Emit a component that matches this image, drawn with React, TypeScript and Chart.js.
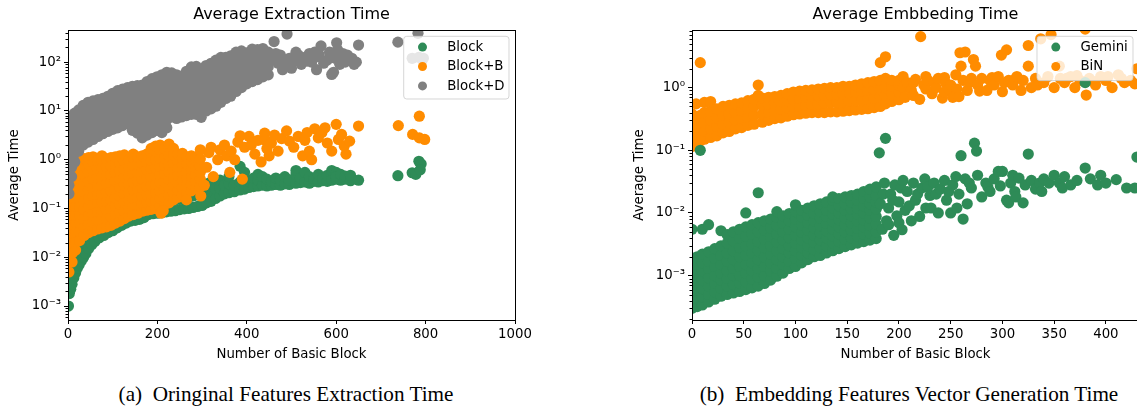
import React, { useEffect, useRef } from 'react';
import { Chart, registerables } from 'chart.js';
Chart.register(...registerables);

type Col = [number, number[]];

const FONT = '"DejaVu Sans", sans-serif';

// ---------- axes / labels ----------
const leftTitle = 'Average Extraction Time';
const rightTitle = 'Average Embbeding Time';
const xAxisTitle = 'Number of Basic Block';
const yAxisTitle = 'Average Time';
const leftXTicks = [0, 200, 400, 600, 800, 1000];
const rightXTicks = [0, 50, 100, 150, 200, 250, 300, 350, 400];
const leftYTicks = [0.001, 0.01, 0.1, 1, 10, 100];
const leftYTickLabels = ['10⁻³', '10⁻²', '10⁻¹', '10⁰', '10¹', '10²'];
const rightYTicks = [0.001, 0.01, 0.1, 1];
const rightYTickLabels = ['10⁻³', '10⁻²', '10⁻¹', '10⁰'];
const leftSeriesNames = ['Block', 'Block+B', 'Block+D'];
const rightSeriesNames = ['Gemini', 'BiN'];
const captionA = '(a)  Oringinal Features Extraction Time';
const captionB = '(b)  Embedding Features Vector Generation Time';

// ---------- left panel data: [number of basic blocks, [average times]] ----------
const blockData: Col[] = [
  [1, [0.001]], [3, [0.0018, 0.003]], [6, [0.0022, 0.0035]], [9, [0.0028, 0.0045]], [13, [0.0038, 0.006]],
  [17, [0.0048, 0.0075]], [21, [0.006, 0.009]], [25, [0.007, 0.011]], [30, [0.0085, 0.013]], [35, [0.01, 0.016]],
  [40, [0.012, 0.019]], [46, [0.015, 0.023]], [53, [0.018, 0.027]], [60, [0.021, 0.032]], [70, [0.025, 0.038]],
  [80, [0.028, 0.043]], [90, [0.032, 0.048]], [100, [0.035, 0.055]], [110, [0.04, 0.06]], [120, [0.045, 0.065]],
  [130, [0.05, 0.07]], [140, [0.055, 0.075]], [150, [0.057, 0.085]], [160, [0.06, 0.09]], [170, [0.065, 0.095]],
  [180, [0.075, 0.1]], [190, [0.078, 0.11]], [200, [0.08, 0.12]], [210, [0.082, 0.125]], [220, [0.085, 0.13]],
  [230, [0.088, 0.14]], [240, [0.09, 0.15]], [250, [0.095, 0.155]], [260, [0.098, 0.16]], [270, [0.1, 0.17]],
  [280, [0.105, 0.18]], [290, [0.11, 0.19]], [300, [0.115, 0.2, 0.3]], [310, [0.13, 0.2, 0.32]], [320, [0.14, 0.22, 0.35]],
  [330, [0.16, 0.25]], [340, [0.18, 0.26, 0.38]], [350, [0.2, 0.3]], [360, [0.21, 0.32, 0.45]], [372, [0.22, 0.3]],
  [385, [0.24, 0.35, 0.73]], [395, [0.25, 0.4, 0.55]], [405, [0.27, 0.36]], [415, [0.28, 0.42]], [425, [0.29, 0.38, 0.5]],
  [435, [0.3, 0.45]], [445, [0.29, 0.4]], [455, [0.3, 0.36]], [465, [0.31, 0.42]], [475, [0.3, 0.38]],
  [485, [0.32, 0.45]], [495, [0.31, 0.38]], [510, [0.33, 0.5, 0.6]], [520, [0.34, 0.42]], [530, [0.35, 0.55]],
  [540, [0.33, 0.45]], [550, [0.36, 0.4]], [560, [0.35, 0.5]], [570, [0.37, 0.42]], [580, [0.36, 0.48]],
  [590, [0.38, 0.6]], [600, [0.4, 0.55, 0.45]], [610, [0.38, 0.5]], [620, [0.4, 0.46]], [632, [0.37, 0.48]],
  [650, [0.38]], [738, [0.47]], [770, [0.54]], [778, [0.5]], [785, [0.93]], [790, [0.82]], [788, [0.62]],
];

const blockBData: Col[] = [
  [2, [0.005, 0.008, 0.012, 0.019, 0.03, 0.045, 0.07, 0.11, 0.17]],
  [9, [0.008, 0.012, 0.018, 0.028, 0.042, 0.065, 0.1, 0.15, 0.23, 0.35]],
  [17, [0.014, 0.021, 0.032, 0.05, 0.075, 0.11, 0.17, 0.26, 0.4, 0.6]],
  [26, [0.022, 0.033, 0.05, 0.075, 0.11, 0.17, 0.26, 0.4, 0.6, 0.9]],
  [36, [0.028, 0.042, 0.064, 0.095, 0.14, 0.22, 0.33, 0.5, 0.75, 1.05]],
  [46, [0.032, 0.048, 0.072, 0.11, 0.16, 0.24, 0.36, 0.55, 0.82, 1.1]],
  [56, [0.035, 0.052, 0.078, 0.12, 0.18, 0.27, 0.4, 0.6, 0.9, 1.15]],
  [66, [0.038, 0.057, 0.085, 0.13, 0.19, 0.29, 0.43, 0.65, 0.97]],
  [76, [0.04, 0.06, 0.09, 0.135, 0.2, 0.3, 0.45, 0.68, 1.0, 1.2]],
  [86, [0.042, 0.063, 0.095, 0.14, 0.21, 0.32, 0.48, 0.72, 1.05]],
  [96, [0.045, 0.068, 0.1, 0.15, 0.23, 0.34, 0.5, 0.75, 1.1]],
  [106, [0.05, 0.075, 0.11, 0.165, 0.25, 0.37, 0.55, 0.8, 1.15]],
  [116, [0.055, 0.082, 0.12, 0.18, 0.27, 0.4, 0.6, 0.88, 1.2]],
  [126, [0.062, 0.09, 0.135, 0.2, 0.3, 0.44, 0.65, 0.95, 1.25]],
  [136, [0.07, 0.1, 0.15, 0.22, 0.32, 0.47, 0.7, 1.0]],
  [146, [0.075, 0.11, 0.16, 0.24, 0.35, 0.52, 0.76, 1.1, 1.3]],
  [156, [0.08, 0.115, 0.17, 0.25, 0.37, 0.55, 0.8, 1.15]],
  [166, [0.088, 0.125, 0.18, 0.27, 0.4, 0.58, 0.85, 1.2]],
  [176, [0.092, 0.13, 0.19, 0.28, 0.42, 0.62, 0.9, 1.3]],
  [186, [0.096, 0.14, 0.2, 0.3, 0.45, 0.66, 0.97, 1.4, 1.7]],
  [196, [0.1, 0.145, 0.21, 0.31, 0.46, 0.68, 1.0, 1.5, 1.9]],
  [206, [0.11, 0.16, 0.23, 0.34, 0.5, 0.72, 1.05, 1.6, 2.0]],
  [216, [0.12, 0.17, 0.25, 0.36, 0.52, 0.76, 1.1, 1.7]],
  [226, [0.13, 0.19, 0.27, 0.39, 0.56, 0.8, 1.2, 1.8, 2.1]],
  [236, [0.15, 0.21, 0.3, 0.42, 0.6, 0.85, 1.25, 1.7]],
  [246, [0.17, 0.24, 0.34, 0.48, 0.68, 0.95, 1.3]],
  [256, [0.19, 0.27, 0.38, 0.53, 0.75, 1.05, 1.35]],
  [266, [0.21, 0.3, 0.42, 0.58, 0.82, 1.15]],
  [276, [0.23, 0.32, 0.45, 0.63, 0.88, 1.2]],
  [286, [0.26, 0.36, 0.5, 0.7, 0.95, 1.1]],
  [296, [0.28, 0.4, 0.55, 0.75, 1.05, 1.6]],
  [208, [0.08]], [213, [0.09]], [265, [0.15]], [297, [0.18]],
  [305, [0.3]], [310, [0.7]], [315, [1.4]], [320, [1.8]], [325, [0.45]], [335, [1.0]], [340, [1.6]],
  [350, [2.0]], [355, [1.2]], [362, [0.55]], [365, [1.5]], [373, [1.0]], [380, [2.3]], [385, [3.1]],
  [390, [0.4]], [395, [1.8]], [405, [3.0]], [410, [2.0]], [418, [1.3]], [425, [2.5]], [432, [0.9]],
  [440, [3.5]], [442, [2.5]], [445, [1.7]], [450, [1.2]], [455, [2.2]], [462, [3.2]], [470, [1.5]],
  [478, [2.7]], [489, [3.9]], [495, [2.4]], [505, [1.8]], [515, [3.0]], [525, [1.2]], [530, [2.5]],
  [535, [3.6]], [540, [1.5]], [545, [1.0]], [552, [4.3]], [560, [2.8]], [568, [3.6]], [575, [4.5]],
  [580, [2.2]], [590, [1.5]], [600, [5.3]], [605, [2.6]], [612, [3.3]], [618, [1.9]], [622, [1.3]],
  [630, [2.4]], [650, [4.9]], [739, [5.0]], [771, [3.3]], [786, [7.8, 2.8]], [798, [2.6]],
];

const blockDData: Col[] = [
  [2, [0.2, 0.3, 0.45, 0.7, 1.0, 1.5, 2.3, 3.5, 5.3, 7.5]],
  [8, [0.45, 0.7, 1.0, 1.5, 2.3, 3.5, 5.2, 7.8]],
  [15, [0.9, 1.35, 2.0, 3.0, 4.5, 6.8, 9.0]],
  [24, [1.5, 2.2, 3.3, 5.0, 7.5, 10.5]],
  [34, [2.0, 3.0, 4.5, 6.8, 10, 13]],
  [45, [2.3, 3.4, 5.0, 7.5, 11, 15]],
  [56, [2.6, 3.8, 5.6, 8.3, 12, 16]],
  [67, [3.0, 4.4, 6.5, 9.5, 14, 17]],
  [78, [3.4, 5.0, 7.3, 10.5, 15, 18]],
  [89, [3.8, 5.5, 8.0, 11.5, 16, 20]],
  [100, [4.2, 6.0, 8.8, 13, 19, 23]],
  [111, [4.5, 6.5, 9.5, 14, 20, 26]],
  [122, [5.0, 7.2, 10.5, 15, 22, 28]],
  [133, [5.5, 8.0, 11.5, 17, 24, 30]],
  [144, [4.0, 5.8, 8.5, 12.5, 18, 26, 32]],
  [155, [3.5, 5.2, 7.5, 11, 16, 23, 33]],
  [166, [2.8, 4.2, 6.2, 9.0, 13, 19, 27, 34]],
  [177, [3.2, 4.7, 7.0, 10, 15, 22, 32, 40]],
  [188, [3.6, 5.3, 7.8, 11.5, 17, 25, 36, 46]],
  [199, [4.0, 5.8, 8.5, 12.5, 18, 27, 40, 50]],
  [210, [3.6, 5.3, 7.8, 11.5, 17, 25, 37, 55]],
  [221, [4.5, 6.6, 9.7, 14, 21, 31, 45, 62]],
  [232, [7.5, 11, 16, 23, 34, 50, 60]],
  [243, [7.0, 10, 15, 22, 32, 46, 55]],
  [254, [7.5, 11, 16, 23, 34, 48, 52]],
  [265, [8.0, 12, 17, 25, 36, 52, 65]],
  [276, [8.5, 12.5, 18, 27, 40, 58, 80]],
  [287, [8.5, 12.5, 18, 27, 40, 58, 82]],
  [298, [7.4, 11, 16, 24, 35, 52, 72]],
  [309, [10, 14.5, 21, 31, 46, 68, 85]],
  [320, [11, 16, 24, 35, 52, 78, 95]],
  [331, [12.5, 18, 27, 40, 60, 90, 110]],
  [342, [15, 22, 33, 48, 72, 105, 125]],
  [353, [18, 27, 40, 58, 85, 125]],
  [364, [20, 30, 44, 65, 95, 135]],
  [376, [25, 37, 55, 80, 120, 160]],
  [388, [30, 44, 65, 95, 140, 170]],
  [400, [36, 53, 78, 115, 155]],
  [412, [40, 58, 85, 125, 170, 185]],
  [424, [44, 65, 95, 140, 180]],
  [436, [50, 72, 105, 150, 190]],
  [448, [55, 80, 118, 160]],
  [455, [110]], [461, [264]], [465, [150]], [470, [95]], [475, [140]], [480, [70]], [485, [95]],
  [490, [377]], [495, [120]], [500, [75]], [505, [107]], [510, [160]], [515, [140]], [518, [120]],
  [522, [90]], [530, [125]], [535, [105]], [540, [150]], [545, [100]], [548, [130]], [552, [160]],
  [556, [70]], [560, [130]], [562, [140]], [566, [215]], [572, [95]], [580, [110]], [585, [160]],
  [590, [56]], [592, [130]], [594, [62]], [598, [120]], [601, [250]], [603, [180]], [608, [90]],
  [612, [130]], [615, [150]], [620, [100]], [625, [140]], [628, [110]], [635, [120]], [640, [90]],
  [645, [100]], [650, [224]], [738, [257]], [770, [120]], [783, [390]], [785, [125]], [795, [120]],
];

// ---------- right panel data ----------
const geminiData: Col[] = [
  [0, [0.0003, 0.0004, 0.00055, 0.00075, 0.001, 0.0014, 0.0019, 0.0055]],
  [5, [0.00032, 0.00043, 0.0006, 0.0008, 0.0011, 0.0015, 0.002]],
  [8, [0.1]],
  [10, [0.00034, 0.00046, 0.00062, 0.00085, 0.0012, 0.0016, 0.0022, 0.0055]],
  [16, [0.00038, 0.0005, 0.00068, 0.00092, 0.0013, 0.0017, 0.0024, 0.0065]],
  [22, [0.00042, 0.00055, 0.00075, 0.001, 0.0014, 0.0019, 0.0027]],
  [28, [0.00047, 0.00062, 0.00085, 0.0011, 0.0015, 0.0021, 0.003, 0.0052]],
  [34, [0.0005, 0.00068, 0.0009, 0.0012, 0.0017, 0.0023, 0.0033, 0.0045]],
  [40, [0.00053, 0.00072, 0.001, 0.0013, 0.0018, 0.0025, 0.0036, 0.005]],
  [46, [0.00056, 0.00076, 0.001, 0.0014, 0.002, 0.0028, 0.004, 0.0055]],
  [52, [0.0006, 0.0008, 0.0011, 0.0015, 0.0021, 0.003, 0.0043, 0.006, 0.01]],
  [58, [0.00064, 0.00088, 0.0012, 0.0016, 0.0023, 0.0032, 0.0046, 0.0065]],
  [64, [0.00068, 0.00095, 0.0013, 0.0018, 0.0025, 0.0035, 0.005, 0.007, 0.021]],
  [70, [0.00075, 0.001, 0.0014, 0.002, 0.0028, 0.0038, 0.0053, 0.0075]],
  [76, [0.00085, 0.0012, 0.0016, 0.0022, 0.003, 0.0042, 0.0058, 0.008]],
  [82, [0.00098, 0.0013, 0.0018, 0.0025, 0.0034, 0.0046, 0.0063, 0.0085, 0.0105]],
  [88, [0.0011, 0.0015, 0.002, 0.0027, 0.0037, 0.005, 0.0068, 0.009]],
  [94, [0.0013, 0.0017, 0.0023, 0.003, 0.004, 0.0055, 0.0074, 0.0098]],
  [100, [0.0014, 0.0019, 0.0025, 0.0033, 0.0044, 0.006, 0.008, 0.0105, 0.0135]],
  [106, [0.0016, 0.0021, 0.0028, 0.0037, 0.0049, 0.0065, 0.0086, 0.011]],
  [112, [0.0018, 0.0023, 0.003, 0.004, 0.0053, 0.007, 0.0092, 0.012]],
  [118, [0.002, 0.0026, 0.0034, 0.0044, 0.0058, 0.0075, 0.0098, 0.013]],
  [124, [0.0021, 0.0028, 0.0037, 0.0048, 0.0063, 0.0082, 0.0105, 0.014]],
  [130, [0.0023, 0.003, 0.004, 0.0052, 0.0068, 0.0088, 0.011, 0.015]],
  [136, [0.0025, 0.0033, 0.0043, 0.0056, 0.0073, 0.0095, 0.012, 0.016, 0.018]],
  [142, [0.0027, 0.0035, 0.0046, 0.006, 0.0078, 0.01, 0.013, 0.017]],
  [148, [0.0029, 0.0038, 0.005, 0.0065, 0.0084, 0.011, 0.014, 0.018]],
  [154, [0.0031, 0.004, 0.0053, 0.0069, 0.009, 0.0115, 0.015, 0.019]],
  [160, [0.0033, 0.0043, 0.0057, 0.0074, 0.0096, 0.012, 0.016, 0.02]],
  [166, [0.0035, 0.0046, 0.006, 0.0078, 0.01, 0.013, 0.017, 0.022]],
  [172, [0.0037, 0.0048, 0.0063, 0.0083, 0.011, 0.014, 0.018, 0.024]],
  [178, [0.0039, 0.005, 0.0066, 0.0088, 0.0115, 0.015, 0.019, 0.026]],
  [181, [0.091]], [182, [0.014]], [184, [0.0055]], [185, [0.02]], [186, [0.03]], [187, [0.155]],
  [188, [0.0075]], [190, [0.012, 0.0065]], [192, [0.02]], [194, [0.016]], [195, [0.0044]], [196, [0.028]],
  [198, [0.009]], [200, [0.015, 0.007]], [202, [0.025]], [203, [0.0054]], [204, [0.033]], [206, [0.011]],
  [208, [0.022]], [210, [0.013]], [212, [0.0075]], [214, [0.03]], [216, [0.016]], [218, [0.02]],
  [220, [0.0088]], [222, [0.025]], [225, [0.035]], [226, [0.012]], [228, [0.026]], [230, [0.019]],
  [231, [0.012]], [234, [0.03]], [236, [0.02]], [238, [0.01]], [240, [0.024]], [244, [0.033]],
  [246, [0.016]], [248, [0.022]], [250, [0.01]], [252, [0.028]], [255, [0.038]], [256, [0.012]],
  [258, [0.02]], [260, [0.082]], [262, [0.008]], [264, [0.035]], [266, [0.014]], [268, [0.03]],
  [270, [0.025]], [273, [0.13]], [275, [0.097]], [276, [0.04]], [280, [0.018]], [284, [0.03]],
  [286, [0.026]], [288, [0.022]], [292, [0.035]], [296, [0.046]], [298, [0.027]], [300, [0.046]],
  [304, [0.016]], [306, [0.0145]], [308, [0.03]], [310, [0.04]], [312, [0.022]], [313, [0.018]],
  [316, [0.036]], [320, [0.0145]], [322, [0.028]], [325, [0.087]], [328, [0.033]], [332, [0.024]],
  [336, [0.03]], [338, [0.022]], [340, [0.035]], [345, [0.03]], [350, [0.04]], [355, [0.03]],
  [358, [0.025]], [360, [0.038]], [366, [0.028]], [372, [0.033]], [380, [0.052, 1.2]], [385, [0.035]],
  [392, [0.028]], [395, [0.04]], [400, [0.03]], [410, [0.034]], [420, [0.025]], [428, [0.025]], [430, [0.078]],
];

const binData: Col[] = [
  [0, [0.115, 0.16, 0.22, 0.3, 0.38]], [4, [0.13, 0.18, 0.25, 0.34, 0.55]], [8, [0.14, 0.19, 0.26, 0.36, 2.5]],
  [12, [0.15, 0.2, 0.28, 0.4, 0.58]], [18, [0.16, 0.22, 0.3, 0.42, 0.6]], [24, [0.17, 0.24, 0.33, 0.46]],
  [30, [0.19, 0.26, 0.36, 0.5]], [36, [0.2, 0.28, 0.38, 0.52]], [42, [0.22, 0.3, 0.4, 0.55]],
  [48, [0.23, 0.32, 0.43, 0.57]], [54, [0.25, 0.34, 0.46, 0.62]], [60, [0.26, 0.36, 0.5, 0.65]],
  [64, [0.75, 1.1]], [68, [0.28, 0.38, 0.52, 0.68]], [74, [0.3, 0.4, 0.55, 0.7]], [80, [0.32, 0.42, 0.57, 0.72]],
  [86, [0.33, 0.45, 0.6, 0.75]], [92, [0.35, 0.47, 0.62, 0.8]], [98, [0.37, 0.49, 0.65, 0.85]],
  [104, [0.38, 0.5, 0.67, 0.88]], [110, [0.39, 0.52, 0.7, 0.9]], [116, [0.4, 0.54, 0.72, 0.92]],
  [122, [0.4, 0.55, 0.74, 0.95]], [128, [0.4, 0.56, 0.75, 0.97]], [134, [0.41, 0.57, 0.77, 1.0]],
  [140, [0.41, 0.58, 0.78, 1.0]], [146, [0.42, 0.59, 0.8, 1.05]], [152, [0.43, 0.6, 0.82, 1.05]],
  [158, [0.44, 0.62, 0.85, 1.1]], [164, [0.45, 0.63, 0.88, 1.15]], [170, [0.46, 0.65, 0.9, 1.2]],
  [176, [0.48, 0.67, 0.92, 1.25]], [182, [0.5, 0.7, 0.95, 1.3, 2.5]], [187, [0.55, 0.75, 1.0, 1.4, 3.1]],
  [193, [0.6, 0.8, 1.05, 1.3]], [200, [0.64, 0.85, 1.1, 1.3]], [204, [1.0, 1.5]],
  [206, [0.7]], [208, [1.2]], [212, [0.9]], [214, [0.75, 1.2]], [216, [1.35]], [220, [0.65]], [221, [6.5]],
  [224, [1.1]], [226, [0.95, 1.5]], [228, [1.3]], [232, [0.8]], [234, [1.2]], [236, [1.0]], [238, [1.4]],
  [242, [0.68]], [244, [0.85, 1.45]], [245, [1.2]], [248, [0.95]], [250, [1.1]], [252, [0.7]], [255, [1.6]],
  [256, [0.95]], [258, [0.72]], [259, [3.6]], [260, [2.2]], [262, [1.3]], [264, [3.7]], [266, [0.9]],
  [268, [1.2]], [270, [1.4]], [272, [2.8]], [274, [2.2]], [276, [1.1]], [278, [0.88]], [280, [1.4]],
  [285, [0.9]], [288, [1.3]], [290, [1.45]], [292, [1.1]], [296, [1.5]], [299, [3.3]], [300, [0.86]],
  [302, [1.2]], [304, [4.0]], [306, [1.3]], [310, [1.1]], [312, [1.35]], [314, [1.5]], [318, [0.9]],
  [320, [1.3]], [325, [2.2, 4.7]], [328, [1.0]], [332, [1.4]], [334, [1.1]], [337, [6.0]], [340, [1.2]],
  [344, [1.5]], [347, [7.0]], [350, [1.0]], [355, [2.2]], [356, [1.4]], [360, [1.2]], [362, [1.4]],
  [366, [1.5]], [370, [1.0]], [372, [1.55]], [375, [1.3]], [380, [8.6]], [381, [0.76]], [384, [1.4]],
  [388, [1.25]], [390, [1.1]], [395, [1.5]], [400, [1.3]], [402, [1.5]], [406, [1.0]], [412, [1.6]],
  [415, [1.4]], [418, [1.2]], [424, [1.3]], [428, [1.15]], [430, [2.0]],
];

// ---------- styling ----------
const GREEN = '#2e8b57';
const ORANGE = '#ff8c00';
const GRAY = '#808080';
const POINT_RADIUS = 5.6;

const toPoints = (cols: Col[]) => cols.flatMap(([x, ys]) => ys.map((y) => ({ x, y })));

function minorTicks(min: number, max: number) {
  const out: number[] = [];
  for (let e = Math.floor(Math.log10(min)); e <= Math.ceil(Math.log10(max)); e++) {
    for (let d = 2; d <= 9; d++) {
      const v = d * Math.pow(10, e);
      if (v >= min && v <= max) out.push(v);
    }
  }
  return out;
}

type Series = { name: string; color: string; order: number; cols: Col[] };
type Panel = {
  title: string; series: Series[]; xMin: number; xMax: number; xTicks: number[];
  yMin: number; yMax: number; yTicks: number[]; yLabels: string[];
  width: number; padRight: number; yWidth: number; yTitlePad: number;
  legendW: number; legendH: number;
};

function makeOverlay(p: Panel) {
  const minors = minorTicks(p.yMin, p.yMax);
  return {
    id: 'overlay',
    afterDatasetsDraw(chart: any) {
      const { ctx, chartArea: a } = chart;
      const ys = chart.scales.y;
      ctx.save();
      ctx.strokeStyle = '#000';
      ctx.lineWidth = 1;
      ctx.beginPath();
      for (const v of minors) {
        const py = Math.round(ys.getPixelForValue(v)) + 0.5;
        ctx.moveTo(a.left - 2.5, py);
        ctx.lineTo(a.left, py);
      }
      ctx.stroke();
      const l = Math.round(a.left) + 0.5, t = Math.round(a.top) + 0.5;
      const r = Math.round(a.right) + 0.5, b = Math.round(a.bottom) + 0.5;
      ctx.strokeRect(l, t, r - l, b - t);
      // legend box
      const bx = a.right - 6.5 - p.legendW;
      const by = a.top + 5.8;
      ctx.beginPath();
      ctx.roundRect(bx + 0.5, by + 0.5, p.legendW, p.legendH, 3);
      ctx.fillStyle = 'rgba(255,255,255,0.8)';
      ctx.fill();
      ctx.strokeStyle = 'rgba(204,204,204,0.8)';
      ctx.stroke();
      ctx.font = '13.3px ' + FONT;
      ctx.textBaseline = 'middle';
      ctx.textAlign = 'left';
      chart.data.datasets.forEach((d: any, i: number) => {
        const cy = by + 11.3 + i * 19.4;
        ctx.beginPath();
        ctx.arc(bx + 19.3, cy, 4.5, 0, Math.PI * 2);
        ctx.fillStyle = d.backgroundColor;
        ctx.fill();
        ctx.fillStyle = '#000';
        ctx.fillText(d.label, bx + 44, cy + 0.5);
      });
      ctx.restore();
    },
  };
}

function makeConfig(p: Panel): any {
  const tickFont = { family: FONT, size: 13.3 };
  return {
    type: 'scatter',
    data: {
      datasets: p.series.map((s) => ({
        label: s.name,
        data: toPoints(s.cols),
        backgroundColor: s.color,
        borderColor: s.color,
        borderWidth: 0,
        pointRadius: POINT_RADIUS,
        pointHoverRadius: POINT_RADIUS,
        order: s.order,
        clip: 0,
      })),
    },
    options: {
      animation: false,
      responsive: false,
      devicePixelRatio: 1,
      events: [],
      layout: { padding: { left: 0, right: p.padRight, top: 0, bottom: 0 } },
      plugins: {
        legend: { display: false },
        tooltip: { enabled: false },
        title: {
          display: true, text: p.title, color: '#000', fullSize: false,
          font: { family: FONT, size: 16, weight: 'normal' },
          padding: { top: 5.5, bottom: 5.3 },
        },
      },
      scales: {
        x: {
          type: 'linear', min: p.xMin, max: p.xMax,
          afterFit: (s: any) => { s.height = 45; },
          afterBuildTicks: (s: any) => { s.ticks = p.xTicks.map((v) => ({ value: v })); },
          ticks: { color: '#000', font: tickFont, padding: 3, autoSkip: false, maxRotation: 0, callback: (v: any) => String(v) },
          grid: { display: true, drawOnChartArea: false, drawTicks: true, tickLength: 4, tickColor: '#000', tickWidth: 1 },
          border: { display: true, color: '#000', width: 1 },
          title: { display: true, text: xAxisTitle, color: '#000', font: tickFont, padding: { top: 0, bottom: 2.5 } },
        },
        y: {
          type: 'logarithmic', min: p.yMin, max: p.yMax,
          afterFit: (s: any) => { s.width = p.yWidth; },
          afterBuildTicks: (s: any) => { s.ticks = p.yTicks.map((v) => ({ value: v, major: true })); },
          ticks: {
            color: '#000', font: tickFont, padding: 3, autoSkip: false,
            callback: (v: any) => {
              const i = p.yTicks.findIndex((t) => Math.abs(t - v) / t < 1e-6);
              return i >= 0 ? p.yLabels[i] : '';
            },
          },
          grid: { display: true, drawOnChartArea: false, drawTicks: true, tickLength: 4, tickColor: '#000', tickWidth: 1 },
          border: { display: true, color: '#000', width: 1 },
          title: { display: true, text: yAxisTitle, color: '#000', font: tickFont, padding: { top: p.yTitlePad, bottom: 0 } },
        },
      },
    },
    plugins: [makeOverlay(p)],
  };
}

const leftPanel: Panel = {
  title: leftTitle,
  series: [
    { name: leftSeriesNames[0], color: GREEN, order: 3, cols: blockData },
    { name: leftSeriesNames[1], color: ORANGE, order: 2, cols: blockBData },
    { name: leftSeriesNames[2], color: GRAY, order: 1, cols: blockDData },
  ],
  xMin: 0, xMax: 1000, xTicks: leftXTicks,
  yMin: 0.000517, yMax: 456, yTicks: leftYTicks, yLabels: leftYTickLabels,
  width: 580, padRight: 65, yWidth: 68, yTitlePad: 7,
  legendW: 105.3, legendH: 62.7,
};

const rightPanel: Panel = {
  title: rightTitle,
  series: [
    { name: rightSeriesNames[0], color: GREEN, order: 1, cols: geminiData },
    { name: rightSeriesNames[1], color: ORANGE, order: 2, cols: binData },
  ],
  xMin: 0, xMax: 432, xTicks: rightXTicks,
  yMin: 0.000196, yMax: 8.3, yTicks: rightYTicks, yLabels: rightYTickLabels,
  width: 592, padRight: 73, yWidth: 72, yTitlePad: 12,
  legendW: 96, legendH: 44.3,
};

function PanelChart({ panel, left }: { panel: Panel; left: number }) {
  const ref = useRef<HTMLCanvasElement | null>(null);
  useEffect(() => {
    if (!ref.current) return;
    const chart = new Chart(ref.current, makeConfig(panel));
    return () => chart.destroy();
  }, [panel]);
  return (
    <canvas
      ref={ref}
      width={panel.width}
      height={365}
      style={{ position: 'absolute', left, top: 0, width: panel.width, height: 365 }}
    />
  );
}

const captionStyle: React.CSSProperties = {
  position: 'absolute', top: 382, fontFamily: '"Liberation Serif", "Times New Roman", serif',
  fontSize: 21.2, lineHeight: '24px', whiteSpace: 'pre', textAlign: 'center', color: '#000',
};

export default function App() {
  return (
    <div style={{ position: 'fixed', left: 0, top: 0, width: 1137, height: 407, overflow: 'hidden', background: '#fff' }}>
      <PanelChart panel={leftPanel} left={0} />
      <PanelChart panel={rightPanel} left={620} />
      <div style={{ ...captionStyle, left: 0, width: 572 }}>{captionA}</div>
      <div style={{ ...captionStyle, left: 659, width: 500 }}>{captionB}</div>
    </div>
  );
}
